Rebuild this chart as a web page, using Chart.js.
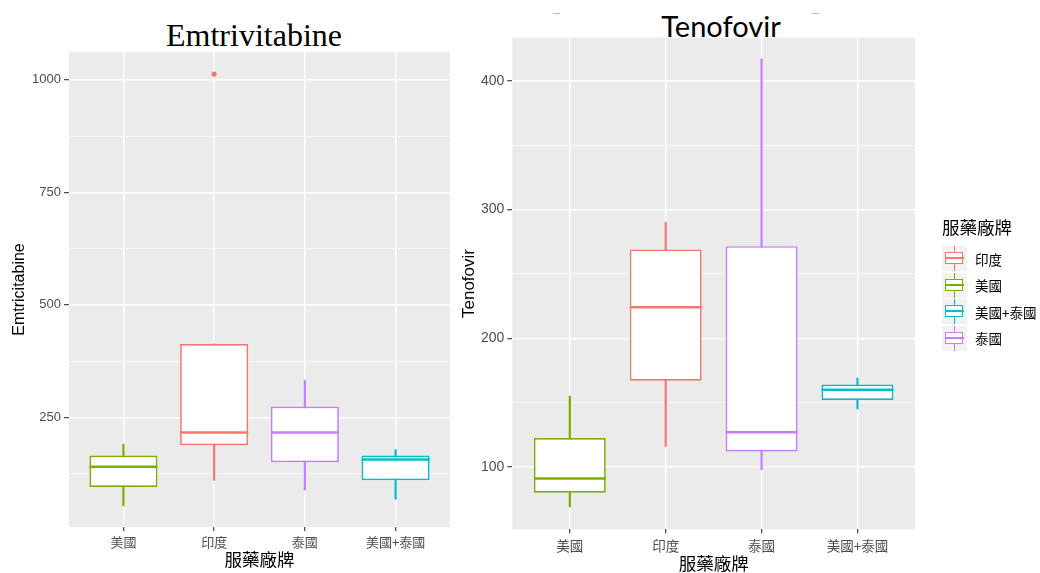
<!DOCTYPE html>
<html>
<head>
<meta charset="utf-8">
<script src="https://cdn.jsdelivr.net/npm/chart.js@4.4.1/dist/chart.umd.min.js"></script>
<style>
  body { margin: 0; width: 1040px; height: 573px; background: #fff; position: relative; overflow: hidden;
         font-family: "Liberation Sans", "Noto Sans CJK TC", sans-serif; }
  canvas { position: absolute; top: 0; z-index: 2; }
  #c1 { left: 0; }
  #c2 { left: 455px; }
  .ttl { position: absolute; width: 200px; text-align: center; white-space: nowrap; color: #000; z-index: 1; }
  #t1 { left: 154px; top: 19px; font: 32px/32px "Liberation Serif", serif; }
  #t2 { left: 621px; top: 11px; font: 29px/29px Lato, sans-serif; }
  .dash { position: absolute; top: 13px; width: 7px; height: 1px; background: #b8b8b8; }
  #legend { position: absolute; left: 942px; top: 0; z-index: 3; font-family: "Noto Sans CJK TC", sans-serif; }
  #legend .lt { position: absolute; left: 0; top: 217px; font-size: 17.5px; line-height: 20px; white-space: nowrap; color: #000; }
  #legend .key { position: absolute; left: 0; width: 25px; height: 25px; background: #F2F2F2; }
  #legend .key div { position: absolute; }
  #legend .lab { position: absolute; left: 33px; font-size: 13.5px; line-height: 16px; white-space: nowrap; color: #000; }
</style>
</head>
<body>
<div class="ttl" id="t1">Emtrivitabine</div>
<div class="ttl" id="t2">Tenofovir</div>
<div class="dash" style="left:553px"></div>
<div class="dash" style="left:812px"></div>
<canvas id="c1" width="458" height="573"></canvas>
<canvas id="c2" width="585" height="573"></canvas>
<div id="legend"></div>

<script>
// categorias en el eje x y sus colores (ggplot hue)
const categories = ['美國', '印度', '泰國', '美國+泰國'];
const boxColors = ['#7CAE00', '#F8766D', '#C77CFF', '#00BFC4'];
const legendTitle = '服藥廠牌';
const legendOrder = ['印度', '美國', '美國+泰國', '泰國'];

// Emtricitabine
const emtMin = [53, 110, 88, 68];
const emtQ1 = [95, 188, 150, 110];
const emtMedian = [140, 216, 216, 156];
const emtQ3 = [165, 413, 274, 165];
const emtMax = [190, 413, 332, 178];
const emtOutliers = [{ cat: '印度', value: 1013 }];
const emtMajorTicks = [250, 500, 750, 1000];
const emtMinorTicks = [125, 375, 625, 875];

// Tenofovir
const tdfMin = [69, 116, 98, 145];
const tdfQ1 = [80, 167, 112, 152];
const tdfMedian = [91, 224, 127, 160];
const tdfQ3 = [122.5, 269, 271.5, 164];
const tdfMax = [155, 290, 417, 169];
const tdfOutliers = [];
const tdfMajorTicks = [100, 200, 300, 400];
const tdfMinorTicks = [150, 250, 350];

const boxWidth = 0.75;

/* fondo gris del panel */
const panelBg = {
    id: 'panelBg',
    beforeDraw(chart) {
        const { ctx, chartArea: a } = chart;
        ctx.save();
        ctx.fillStyle = '#EBEBEB';
        ctx.fillRect(a.left, a.top, a.right - a.left, a.bottom - a.top);
        ctx.restore();
    },
};

/* funcion para armar un boxplot con barras flotantes */
function boxChart(canvasId, s) {
    const range = (lo, hi) => categories.map((c, i) => ({ x: i + 1, y: [lo[i], hi[i]] }));
    const halfBox = (ctx) => {
        const x = ctx.chart.scales.x;
        return x.getPixelForValue(1 + boxWidth / 2) - x.getPixelForValue(1);
    };
    const isMajor = (c) => c.tick && s.major.includes(c.tick.value);

    return new Chart(document.getElementById(canvasId), {
        type: 'bar',
        data: {
            datasets: [
                {
                    // bigotes
                    data: range(s.min, s.max),
                    backgroundColor: boxColors,
                    borderWidth: 0,
                    barThickness: 1.5,
                    grouped: false,
                    order: 3,
                },
                {
                    // caja
                    data: range(s.q1, s.q3),
                    backgroundColor: '#FFFFFF',
                    borderColor: boxColors,
                    borderWidth: 1.7,
                    borderSkipped: false,
                    barPercentage: boxWidth,
                    categoryPercentage: 1,
                    grouped: false,
                    order: 2,
                },
                {
                    // mediana
                    type: 'scatter',
                    data: categories.map((c, i) => ({ x: i + 1, y: s.median[i] })),
                    pointStyle: 'line',
                    radius: halfBox,
                    borderColor: boxColors,
                    borderWidth: 2.6,
                    order: 1,
                },
                {
                    // atipicos
                    type: 'scatter',
                    data: s.outliers.map((o) => ({ x: categories.indexOf(o.cat) + 1, y: o.value })),
                    pointRadius: 2.6,
                    backgroundColor: s.outliers.map((o) => boxColors[categories.indexOf(o.cat)]),
                    borderWidth: 0,
                    order: 0,
                },
            ],
        },
        options: {
            responsive: false,
            animation: false,
            layout: { padding: { left: 0, right: s.padRight, top: s.padTop, bottom: 0 } },
            plugins: { legend: { display: false }, tooltip: { enabled: false }, title: { display: false } },
            scales: {
                x: {
                    type: 'linear',
                    min: 0.4,
                    max: 4.6,
                    offset: false,
                    afterBuildTicks: (sc) => { sc.ticks = categories.map((c, i) => ({ value: i + 1 })); },
                    afterFit: (sc) => { sc.height = s.xHeight; },
                    ticks: {
                        callback: (v) => categories[Math.round(v) - 1],
                        color: '#4D4D4D',
                        font: { family: '"Noto Sans CJK TC", "Liberation Sans"', size: s.xTickSize },
                        padding: s.xTickPad,
                        autoSkip: false,
                        maxRotation: 0,
                    },
                    grid: { color: '#FFFFFF', lineWidth: 1.4, tickColor: '#333333', tickLength: 4, tickWidth: 1.1, offset: false },
                    border: { display: false },
                    title: {
                        display: true,
                        text: legendTitle,
                        color: '#000000',
                        font: { family: '"Noto Sans CJK TC"', size: 17.5 },
                        padding: { top: 0, bottom: s.xTitlePad },
                    },
                },
                y: {
                    min: s.yMin,
                    max: s.yMax,
                    beginAtZero: false,
                    afterBuildTicks: (sc) => {
                        sc.ticks = [...s.major, ...s.minor].sort((a, b) => a - b).map((v) => ({ value: v }));
                    },
                    afterFit: (sc) => { sc.width = s.yWidth; },
                    ticks: {
                        callback: (v) => (s.major.includes(v) ? v : ''),
                        color: '#4D4D4D',
                        font: { family: '"Liberation Sans"', size: s.yTickSize },
                        padding: 3,
                    },
                    grid: {
                        color: '#FFFFFF',
                        lineWidth: (c) => (isMajor(c) ? 1.4 : 0.7),
                        tickColor: (c) => (isMajor(c) ? '#333333' : 'rgba(0,0,0,0)'),
                        tickLength: 5,
                        tickWidth: 1.1,
                    },
                    border: { display: false },
                    title: {
                        display: true,
                        text: s.yTitle,
                        color: '#000000',
                        font: { family: '"Liberation Sans"', size: s.yTitleSize },
                        padding: { top: s.yTitlePad, bottom: 0 },
                    },
                },
            },
        },
        plugins: [panelBg],
    });
}

boxChart('c1', {
    min: emtMin, q1: emtQ1, median: emtMedian, q3: emtQ3, max: emtMax, outliers: emtOutliers,
    major: emtMajorTicks, minor: emtMinorTicks, yMin: 6, yMax: 1062,
    yTitle: 'Emtricitabine', yTitleSize: 16, yTitlePad: 10, yTickSize: 13, yWidth: 69,
    xTickSize: 13, xTickPad: 3.5, xTitlePad: 3.5, xHeight: 46, padTop: 52, padRight: 8,
});

boxChart('c2', {
    min: tdfMin, q1: tdfQ1, median: tdfMedian, q3: tdfQ3, max: tdfMax, outliers: tdfOutliers,
    major: tdfMajorTicks, minor: tdfMinorTicks, yMin: 51.6, yMax: 433.4,
    yTitle: 'Tenofovir', yTitleSize: 17, yTitlePad: 3.7, yTickSize: 14, yWidth: 57.3,
    xTickSize: 13.5, xTickPad: 4.3, xTitlePad: -1, xHeight: 43.7, padTop: 37.7, padRight: 125,
});

/* leyenda con mini boxplots */
const legend = document.getElementById('legend');
legend.innerHTML = `<div class="lt">${legendTitle}</div>`;
legendOrder.forEach((name, i) => {
    const color = boxColors[categories.indexOf(name)];
    const cy = 258.5 + i * 26.5;
    legend.innerHTML += `
        <div class="key" style="top:${cy - 12.5}px">
            <div style="left:11.8px;top:0;width:1.4px;height:25px;background:${color}"></div>
            <div style="left:3px;top:6px;width:16.2px;height:10.2px;background:#fff;border:1.4px solid ${color}"></div>
            <div style="left:3px;top:11.3px;width:19px;height:2px;background:${color}"></div>
        </div>
        <div class="lab" style="top:${cy - 8}px">${name}</div>`;
});
</script>
</body>
</html>
